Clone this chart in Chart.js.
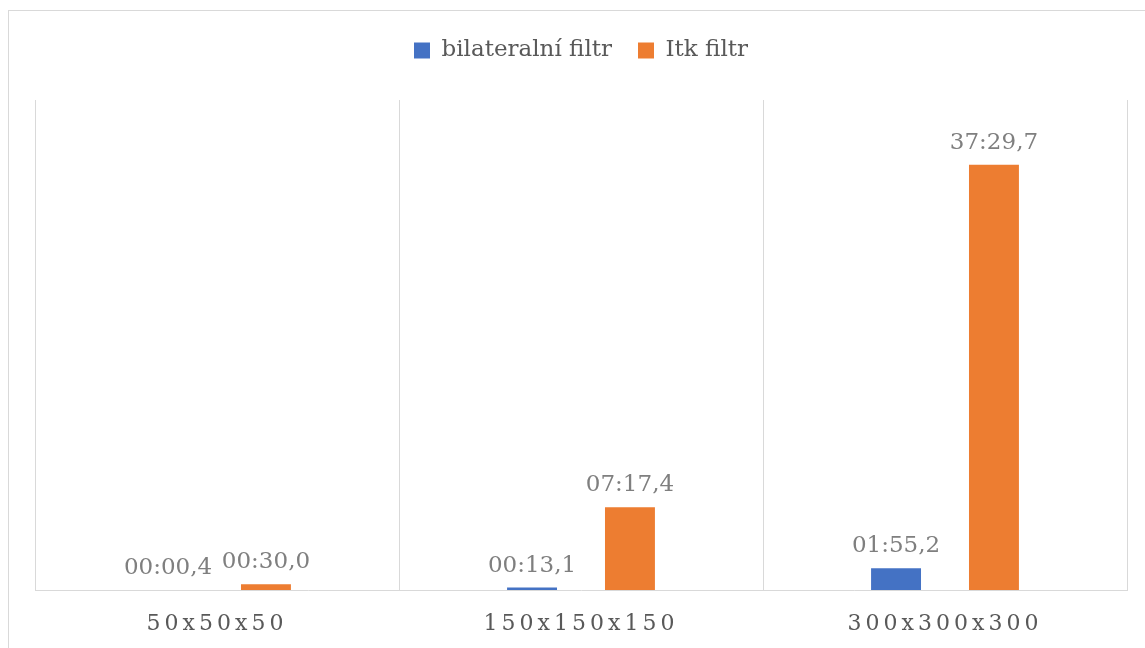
<!DOCTYPE html>
<html>
<head>
<meta charset="utf-8">
<script src="https://cdn.jsdelivr.net/npm/chart.js@4.4.1/dist/chart.umd.min.js"></script>
<style>
  html, body { margin: 0; padding: 0; background: #ffffff; }
  #wrap { position: relative; width: 1145px; height: 648px; }
</style>
</head>
<body>
<div id="wrap"><canvas id="c" width="1145" height="648"></canvas></div>
<script>
// ---- data (seconds) ----
const categories = ['50x50x50', '150x150x150', '300x300x300'];
const bilateralSeconds = [0.4, 13.1, 115.2];
const itkSeconds = [30.0, 437.4, 2249.7];
const seriesNames = ['bilateralní filtr', 'Itk filtr'];
const axisMaxSeconds = 2592; // 0.03 day

function fmtTime(sec) {
  const tenths = Math.round(sec * 10);
  const m = Math.floor(tenths / 600);
  const rest = tenths - m * 600;
  const s = Math.floor(rest / 10);
  const d = rest % 10;
  return String(m).padStart(2, '0') + ':' + String(s).padStart(2, '0') + ',' + d;
}

const SERIF = '"DejaVu Serif", "Liberation Serif", serif';

const framePlugin = {
  id: 'frame',
  beforeDraw(chart) {
    const ctx = chart.ctx;
    ctx.save();
    ctx.fillStyle = '#ffffff';
    ctx.fillRect(0, 0, chart.width, chart.height);
    ctx.strokeStyle = '#d9d9d9';
    ctx.lineWidth = 1;
    ctx.strokeRect(8.5, 10.5, chart.width + 10, chart.height + 10);
    ctx.restore();
  }
};

const patchPlugin = {
  id: 'patches',
  beforeUpdate(chart) {
    if (chart.legend && !chart.legend._fitPatched) {
      const origFit = chart.legend.fit;
      chart.legend.fit = function () {
        origFit.call(this);
        this.height += 28;
      };
      chart.legend._fitPatched = true;
    }
  },
  afterUpdate(chart) {
    const sc = chart.scales.x;
    if (sc && !sc._lsPatched) {
      const orig = sc.drawLabels;
      sc.drawLabels = function (area) {
        const ctx = this.ctx;
        const prev = ctx.letterSpacing;
        ctx.letterSpacing = '4px';
        orig.call(this, area);
        ctx.letterSpacing = prev;
      };
      sc._lsPatched = true;
    }
  }
};

const labelPlugin = {
  id: 'barLabels',
  afterDatasetsDraw(chart) {
    const ctx = chart.ctx;
    ctx.save();
    ctx.font = '23px ' + SERIF;
    ctx.fillStyle = '#7f7f7f';
    ctx.textAlign = 'center';
    ctx.textBaseline = 'alphabetic';
    chart.data.datasets.forEach((ds, di) => {
      const meta = chart.getDatasetMeta(di);
      meta.data.forEach((el, i) => {
        ctx.fillText(fmtTime(ds.data[i]), el.x, el.y - 16);
      });
    });
    ctx.restore();
  }
};

new Chart(document.getElementById('c'), {
  type: 'bar',
  data: {
    labels: categories,
    datasets: [
      { label: seriesNames[0], data: bilateralSeconds, backgroundColor: '#4472C4', borderWidth: 0 },
      { label: seriesNames[1], data: itkSeconds, backgroundColor: '#ED7D31', borderWidth: 0 }
    ]
  },
  options: {
    responsive: false,
    animation: false,
    devicePixelRatio: 1,
    categoryPercentage: 0.538,
    barPercentage: 0.51,
    layout: { padding: { top: 13, left: 35, right: 18, bottom: 12 } },
    plugins: {
      legend: {
        position: 'top',
        labels: {
          boxWidth: 16,
          boxHeight: 16,
          padding: 26,
          color: '#595959',
          font: { family: SERIF, size: 23 }
        }
      },
      tooltip: { enabled: false }
    },
    scales: {
      x: {
        grid: { display: true, offset: true, drawTicks: false, color: '#d9d9d9', lineWidth: 1 },
        border: { display: true, color: '#d9d9d9', width: 1 },
        ticks: { color: '#595959', padding: 21, font: { family: SERIF, size: 22 } },
        afterFit(scale) { scale.height = 46; }
      },
      y: {
        display: false,
        min: 0,
        max: axisMaxSeconds
      }
    }
  },
  plugins: [framePlugin, patchPlugin, labelPlugin]
});
</script>
</body>
</html>
